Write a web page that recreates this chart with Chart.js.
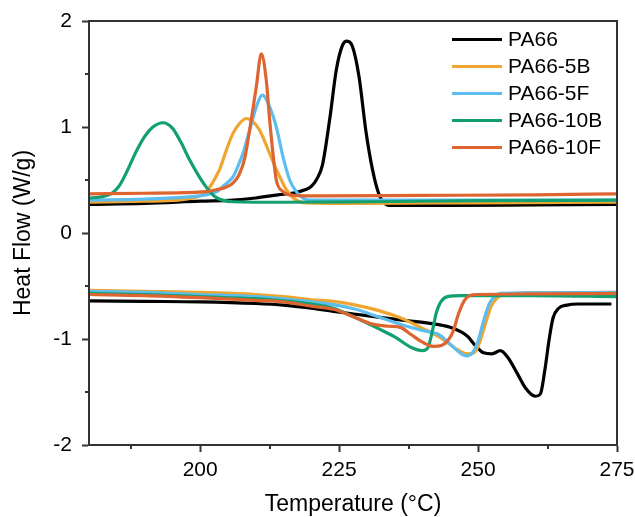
<!DOCTYPE html>
<html>
<head>
<meta charset="utf-8">
<script src="https://cdn.jsdelivr.net/npm/chart.js@4.4.1/dist/chart.umd.min.js"></script>
<style>
  body { margin: 0; background: #fff; }
  canvas { display: block; }
</style>
</head>
<body>
<canvas id="dsc" width="635" height="517"></canvas>
<script>
// data: cooling (top) and heating (bottom) branches
var names = ["PA66", "PA66-5B", "PA66-5F", "PA66-10B", "PA66-10F"];
var colors = ["#000000", "#EFA52F", "#5CBDEE", "#12A070", "#DF6530"];

var pa66CoolT  = [180, 190, 200, 206, 210, 214, 217, 219, 220, 221, 222, 223.3, 224.5, 225.6, 226.4, 227.4, 228.6, 229.8, 231, 232.2, 233, 234, 245, 260, 275];
var pa66CoolHF = [0.27, 0.28, 0.30, 0.31, 0.33, 0.36, 0.38, 0.41, 0.44, 0.51, 0.64, 1.07, 1.54, 1.77, 1.81, 1.76, 1.47, 0.97, 0.60, 0.36, 0.29, 0.26, 0.26, 0.265, 0.27];
var pa66HeatT  = [180, 190, 200, 210, 215, 220, 224, 230, 236, 241, 245, 248, 249.5, 251, 252.5, 254, 255.3, 257, 258.5, 260.3, 261.2, 262, 262.8, 263.5, 264.5, 266, 268, 274];
var pa66HeatHF = [-0.64, -0.645, -0.65, -0.665, -0.68, -0.71, -0.74, -0.78, -0.82, -0.85, -0.89, -0.97, -1.06, -1.13, -1.14, -1.11, -1.17, -1.32, -1.46, -1.54, -1.52, -1.3, -1.0, -0.8, -0.71, -0.68, -0.67, -0.67];

var b5CoolT  = [180, 190, 196, 198.7, 200, 201.1, 202.3, 203.5, 204.7, 205.9, 207.2, 208.3, 209.5, 210.7, 212.5, 213.7, 214.6, 215.5, 217.3, 219, 230, 250, 275];
var b5CoolHF = [0.29, 0.30, 0.31, 0.33, 0.35, 0.39, 0.48, 0.60, 0.78, 0.94, 1.04, 1.08, 1.05, 0.97, 0.75, 0.60, 0.50, 0.41, 0.31, 0.285, 0.28, 0.285, 0.29];
var b5HeatT  = [180, 190, 200, 210, 215, 220, 224, 228, 232, 236, 240, 243, 246, 248, 249.3, 250.3, 251.3, 252.3, 253.3, 254.5, 260, 275];
var b5HeatHF = [-0.54, -0.55, -0.56, -0.58, -0.60, -0.63, -0.645, -0.68, -0.73, -0.80, -0.90, -0.98, -1.09, -1.14, -1.13, -1.03, -0.86, -0.70, -0.62, -0.58, -0.565, -0.56];

var f5CoolT  = [180, 190, 198, 201, 203, 204.1, 205, 205.9, 206.8, 207.7, 208.9, 210.1, 211.2, 212.5, 213.7, 214.9, 216.1, 217.3, 218.5, 220, 235, 255, 275];
var f5CoolHF = [0.31, 0.32, 0.34, 0.36, 0.39, 0.44, 0.48, 0.53, 0.63, 0.75, 0.97, 1.19, 1.30, 1.19, 1.0, 0.72, 0.50, 0.39, 0.33, 0.31, 0.31, 0.31, 0.31];
var f5HeatT  = [180, 190, 200, 210, 215, 220, 224, 228, 232, 236, 240, 243, 245, 247, 248, 249, 250, 251, 252, 253, 254, 260, 275];
var f5HeatHF = [-0.55, -0.56, -0.58, -0.60, -0.62, -0.65, -0.675, -0.72, -0.79, -0.86, -0.92, -0.96, -1.05, -1.14, -1.16, -1.13, -1.02, -0.83, -0.67, -0.6, -0.57, -0.565, -0.56];

var b10CoolT  = [180, 182, 184, 185.5, 187, 188.5, 190, 191.5, 193.3, 195, 196.5, 198, 199.5, 201, 202.5, 204, 206, 215, 230, 250, 275];
var b10CoolHF = [0.33, 0.34, 0.37, 0.45, 0.6, 0.77, 0.91, 1.0, 1.04, 0.99, 0.86, 0.7, 0.56, 0.44, 0.35, 0.31, 0.295, 0.29, 0.295, 0.305, 0.31];
var b10HeatT  = [180, 190, 200, 210, 215, 220, 224, 228, 232, 235, 238, 240, 241, 241.8, 242.5, 243.3, 244.5, 247, 260, 275];
var b10HeatHF = [-0.57, -0.58, -0.60, -0.62, -0.64, -0.67, -0.71, -0.80, -0.90, -0.98, -1.08, -1.11, -1.08, -0.92, -0.75, -0.65, -0.60, -0.59, -0.59, -0.60];

var f10CoolT  = [180, 190, 197, 201, 203, 204.5, 205.9, 207, 208, 208.9, 210.1, 211, 211.9, 212.5, 213.1, 213.7, 214.9, 216, 220, 240, 260, 275];
var f10CoolHF = [0.37, 0.375, 0.38, 0.39, 0.41, 0.43, 0.47, 0.55, 0.70, 0.97, 1.38, 1.69, 1.44, 1.07, 0.75, 0.50, 0.39, 0.36, 0.35, 0.355, 0.36, 0.37];
var f10HeatT  = [180, 190, 200, 210, 215, 220, 224, 228, 231, 234, 236, 238, 240, 242, 243.5, 244.5, 245.5, 246.5, 247.5, 248.5, 250, 260, 275];
var f10HeatHF = [-0.58, -0.59, -0.61, -0.635, -0.65, -0.69, -0.72, -0.80, -0.86, -0.88, -0.89, -0.96, -1.03, -1.07, -1.06, -1.02, -0.93, -0.76, -0.64, -0.59, -0.58, -0.575, -0.57];

var xTicks = [200, 225, 250, 275];
var xMinor = [187.5, 212.5, 237.5, 262.5];
var yTicks = [-2, -1, 0, 1, 2];
var yMinor = [-1.5, -0.5, 0.5, 1.5];

var coolT = [pa66CoolT, b5CoolT, f5CoolT, b10CoolT, f10CoolT];
var coolHF = [pa66CoolHF, b5CoolHF, f5CoolHF, b10CoolHF, f10CoolHF];
var heatT = [pa66HeatT, b5HeatT, f5HeatT, b10HeatT, f10HeatT];
var heatHF = [pa66HeatHF, b5HeatHF, f5HeatHF, b10HeatHF, f10HeatHF];

var FONT = "'Liberation Sans', Arial, sans-serif";

// join the two branches with a null point so the line breaks between them
function branchPoints(i) {
  var pts = coolT[i].map(function (t, k) { return { x: t, y: coolHF[i][k] }; });
  pts.push({ x: coolT[i][coolT[i].length - 1], y: null });
  heatT[i].forEach(function (t, k) { pts.push({ x: t, y: heatHF[i][k] }); });
  return pts;
}

var datasets = names.map(function (n, i) {
  return {
    label: n,
    data: branchPoints(i),
    borderColor: colors[i],
    borderWidth: 3.2,
    pointRadius: 0,
    cubicInterpolationMode: 'monotone',
    spanGaps: false,
    order: names.length - i
  };
});

// frame, minor ticks and the legend box in the upper right
var extras = {
  id: 'extras',
  afterDraw: function (chart) {
    var ctx = chart.ctx;
    var a = chart.chartArea;
    var xs = chart.scales.x, ys = chart.scales.y;
    ctx.save();
    ctx.strokeStyle = '#333';
    ctx.lineWidth = 2;
    ctx.strokeRect(a.left, a.top, a.right - a.left, a.bottom - a.top);
    ctx.beginPath();
    xMinor.forEach(function (v) {
      var px = Math.round(xs.getPixelForValue(v));
      ctx.moveTo(px, a.bottom);
      ctx.lineTo(px, a.bottom + 4);
    });
    yMinor.forEach(function (v) {
      var py = Math.round(ys.getPixelForValue(v));
      ctx.moveTo(a.left, py);
      ctx.lineTo(a.left - 4, py);
    });
    ctx.stroke();

    ctx.font = '21px ' + FONT;
    ctx.textBaseline = 'middle';
    ctx.textAlign = 'left';
    names.forEach(function (n, i) {
      var y = 39.5 + i * 27;
      ctx.strokeStyle = colors[i];
      ctx.lineWidth = 3;
      ctx.beginPath();
      ctx.moveTo(452, y);
      ctx.lineTo(502, y);
      ctx.stroke();
      ctx.fillStyle = '#000';
      ctx.fillText(n, 508, y + 1);
    });
    ctx.restore();
  }
};

function noOverflow(s) {
  s.paddingLeft = 0; s.paddingRight = 0; s.paddingTop = 0; s.paddingBottom = 0;
}

var chart = new Chart(document.getElementById('dsc').getContext('2d'), {
  type: 'line',
  data: { datasets: datasets },
  plugins: [extras],
  options: {
    responsive: false,
    animation: false,
    devicePixelRatio: 1,
    layout: { padding: { top: 21, right: 18, left: 0, bottom: 0 } },
    plugins: { legend: { display: false }, tooltip: { enabled: false } },
    scales: {
      x: {
        type: 'linear',
        min: 180,
        max: 275,
        afterBuildTicks: function (s) { s.ticks = xTicks.map(function (v) { return { value: v }; }); },
        afterFit: function (s) { s.height = 72; noOverflow(s); },
        grid: { drawOnChartArea: false, drawTicks: true, tickLength: 7, tickColor: '#333', tickWidth: 2 },
        border: { display: true, color: '#333', width: 2 },
        ticks: { color: '#000', padding: 6, maxRotation: 0, font: { family: FONT, size: 21 } },
        title: { display: true, text: 'Temperature (°C)', color: '#000', padding: { top: 0, bottom: 1 }, font: { family: FONT, size: 23, lineHeight: 1 } }
      },
      y: {
        type: 'linear',
        min: -2,
        max: 2,
        afterBuildTicks: function (s) { s.ticks = yTicks.map(function (v) { return { value: v }; }); },
        afterFit: function (s) { s.width = 89; noOverflow(s); },
        grid: { drawOnChartArea: false, drawTicks: true, tickLength: 7, tickColor: '#333', tickWidth: 2 },
        border: { display: true, color: '#333', width: 2 },
        ticks: { color: '#000', padding: 10, font: { family: FONT, size: 21 } },
        title: { display: true, text: 'Heat Flow (W/g)', color: '#000', padding: { top: 12, bottom: 0 }, font: { family: FONT, size: 23, lineHeight: 1 } }
      }
    }
  }
});
</script>
</body>
</html>
